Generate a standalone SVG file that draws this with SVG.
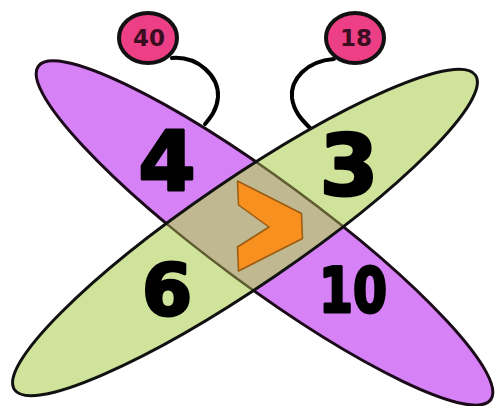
<svg xmlns="http://www.w3.org/2000/svg" width="495" height="406" viewBox="0 0 495 406">
<style>
.num{font-family:"DejaVu Sans","Liberation Sans",sans-serif;font-weight:bold;fill:#000;stroke:#000;stroke-width:3;stroke-linejoin:round;text-anchor:middle}
.small{font-family:"DejaVu Sans","Liberation Sans",sans-serif;font-weight:bold;font-size:23px;fill:#3a0d20;text-anchor:middle}
.bubble{fill:#ec3f86;stroke:#111;stroke-width:4}
.curl{fill:none;stroke:#000;stroke-width:4;stroke-linecap:round}
</style>
<defs>
<ellipse id="pe" cx="264.5" cy="233" rx="281" ry="53" transform="rotate(36.4 264.5 233)"/>
<ellipse id="ge" cx="245" cy="232.5" rx="279" ry="53" transform="rotate(-34.3 245 232.5)"/>
<clipPath id="clipP"><use href="#pe"/></clipPath>
<clipPath id="clipG"><use href="#ge"/></clipPath>
</defs>
<rect width="495" height="406" fill="#fff"/>
<g id="connectors">
<path class="curl" d="M172,58 C198,56 219,76 218,97 C217,110 210,118 205,124"/>
<path class="curl" d="M334,59 C306,61 290,80 292,98 C294,112 302,120 310,128"/>
</g>
<g id="purple-ellipse">
<use href="#pe" fill="#d681f5" stroke="#1a0a1a" stroke-width="3"/>
</g>
<g id="green-ellipse">
<use href="#ge" fill="#cfe39b"/>
</g>
<g id="overlap">
<use href="#ge" fill="#c0b890" clip-path="url(#clipP)"/>
<use href="#pe" fill="none" stroke="#5e5c30" stroke-width="2.5" clip-path="url(#clipG)"/>
<use href="#ge" fill="none" stroke="#111" stroke-width="3"/>
</g>
<g id="sign">
<polygon points="237.5,181 238.5,205 269,227 237.5,247 238.5,271 302.5,238.5 301.5,213.5" fill="#f7901f" stroke="#9a5a10" stroke-width="1.5" stroke-linejoin="round"/>
</g>
<g id="n4"><text class="num" x="167" y="190" font-size="82">4</text></g>
<g id="n3"><text class="num" x="349" y="195" font-size="84">3</text></g>
<g id="n6"><text class="num" x="167" y="315" font-size="72">6</text></g>
<g id="n10"><text class="num" x="353" y="312" font-size="63" textLength="68" lengthAdjust="spacingAndGlyphs">10</text></g>
<g id="b40">
<ellipse class="bubble" cx="148" cy="38" rx="29" ry="25"/>
<text class="small" x="149" y="46">40</text>
</g>
<g id="b18">
<ellipse class="bubble" cx="355" cy="38" rx="29" ry="25"/>
<text class="small" x="356" y="46">18</text>
</g>
</svg>
